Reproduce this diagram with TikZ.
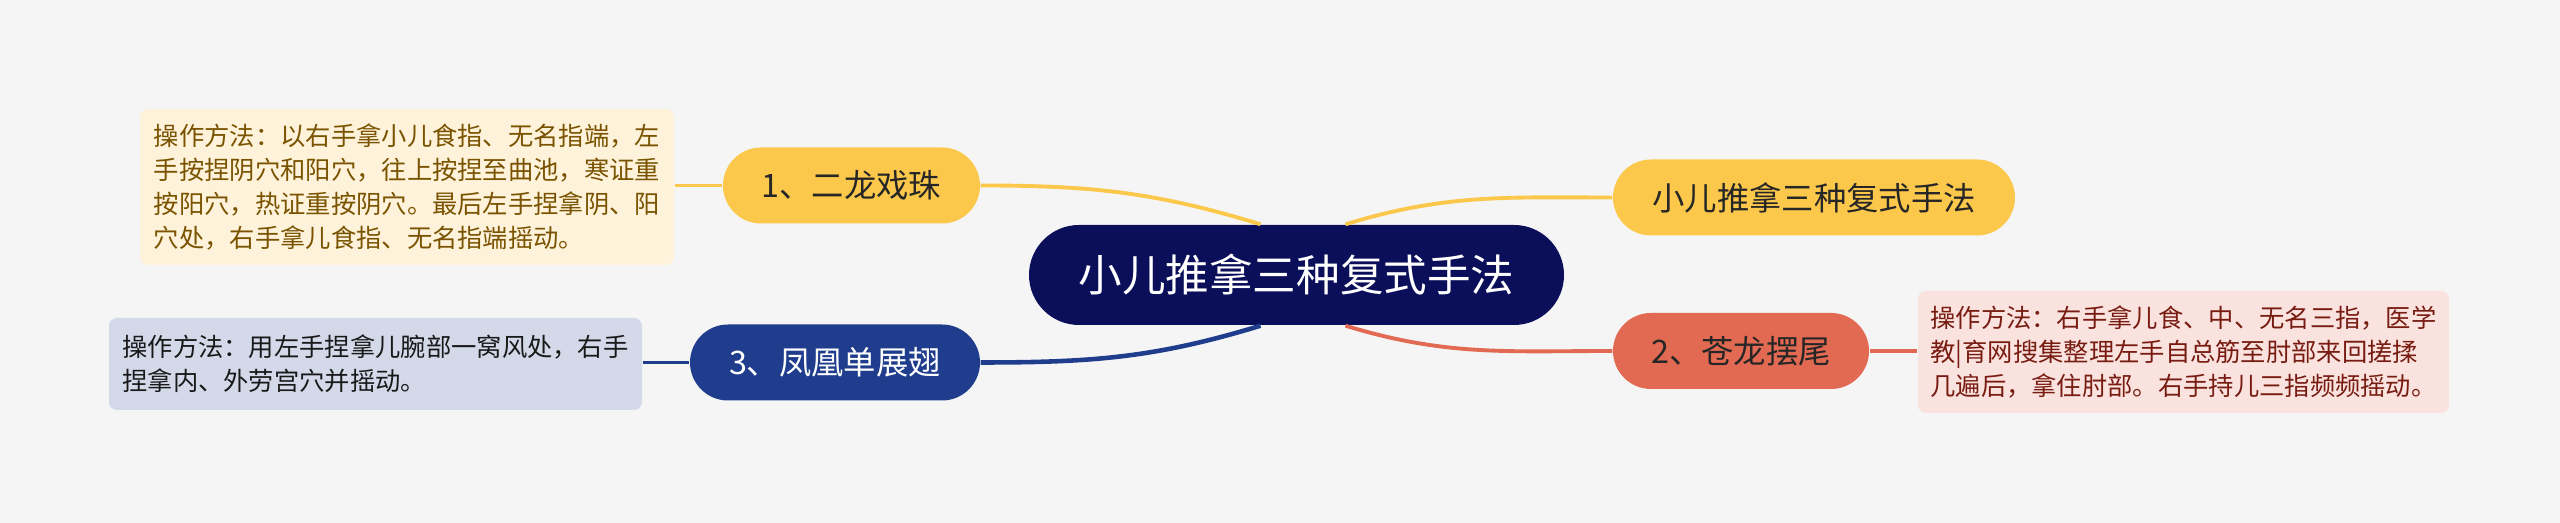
\documentclass[tikz,border=0pt]{standalone}
\usepackage{fontspec}
\setmainfont{Noto Sans CJK SC}
\definecolor{bgcol}{HTML}{F5F5F5}
\definecolor{navy}{HTML}{0B0F5A}
\definecolor{gold}{HTML}{FBC84B}
\definecolor{coral}{HTML}{E26A52}
\definecolor{royal}{HTML}{1F3D8C}
\definecolor{cream}{HTML}{FEF3DA}
\definecolor{blush}{HTML}{FAE3DF}
\definecolor{mist}{HTML}{D3D9E9}

\begin{document}
\begin{tikzpicture}[
    every node/.style = {shape = rectangle, inner sep = 0pt},
    branch/.style = {rounded corners = 0.38cm, minimum height = 0.76cm, font = \fontsize{9.2}{11}\selectfont},
    leaf/.style = {rounded corners = 0.08cm, align = left, font = \fontsize{7.2}{9.6}\selectfont},
    link/.style = {line width = 1.1pt}]
        \fill[bgcol] (0,0) rectangle (25.6,5.23);
        \useasboundingbox (0,0) rectangle (25.6,5.23);
        \node[fill = navy, text = white, rounded corners = 0.5cm, minimum width = 5.35cm,
            minimum height = 1cm, font = \fontsize{12.4}{14}\selectfont] (c) at (12.965,2.48) {小儿推拿三种复式手法};
        \node[branch, fill = gold, text = black!85, minimum width = 2.57cm] (n1) at (8.515,3.375) {1、二龙戏珠};
        \node[branch, fill = gold, text = black!85, minimum width = 4.02cm] (nr) at (18.14,3.255) {小儿推拿三种复式手法};
        \node[branch, fill = coral, text = black!85, minimum width = 2.56cm] (n2) at (17.41,1.72) {2、苍龙摆尾};
        \node[branch, fill = royal, text = white, minimum width = 2.9cm] (n3) at (8.35,1.605) {3、凤凰单展翅};
        \node[leaf, fill = cream, text = {rgb,255:red,122;green,83;blue,0}, minimum width = 5.34cm,
            minimum height = 1.56cm] (l1) at (4.07,3.36)
            {操作方法：以右手拿小儿食指、无名指端，左\\手按捏阴穴和阳穴，往上按捏至曲池，寒证重\\按阳穴，热证重按阴穴。最后左手捏拿阴、阳\\穴处，右手拿儿食指、无名指端摇动。};
        \node[leaf, fill = blush, text = {rgb,255:red,120;green,28;blue,18}, minimum width = 5.31cm,
            minimum height = 1.22cm] (l2) at (21.835,1.71)
            {操作方法：右手拿儿食、中、无名三指，医学\\教|育网搜集整理左手自总筋至肘部来回搓揉\\几遍后，拿住肘部。右手持儿三指频频摇动。};
        \node[leaf, fill = mist, text = black!90, minimum width = 5.33cm,
            minimum height = 0.92cm] (l3) at (3.755,1.59)
            {操作方法：用左手捏拿儿腕部一窝风处，右手\\捏拿内、外劳宫穴并摇动。};
        % main branches
        \draw[link, gold] ([xshift = -0.36cm]c.north) to[out = 163, in = 0] (n1.east);
        \draw[link, gold] ([xshift = 0.49cm]c.north) to[out = 17, in = 180] (nr.west);
        \draw[link, coral] ([xshift = 0.49cm]c.south) to[out = -17, in = 180] (n2.west);
        \draw[link, royal, line width = 1.3pt] ([xshift = -0.36cm]c.south) to[out = -163, in = 0] (n3.east);
        % leaves
        \draw[link, gold] (n1.west) -- (l1.east |- n1.west);
        \draw[link, coral] (n2.east) -- (l2.west |- n2.east);
        \draw[link, royal] (n3.west) -- (l3.east |- n3.west);
\end{tikzpicture}
\end{document}
